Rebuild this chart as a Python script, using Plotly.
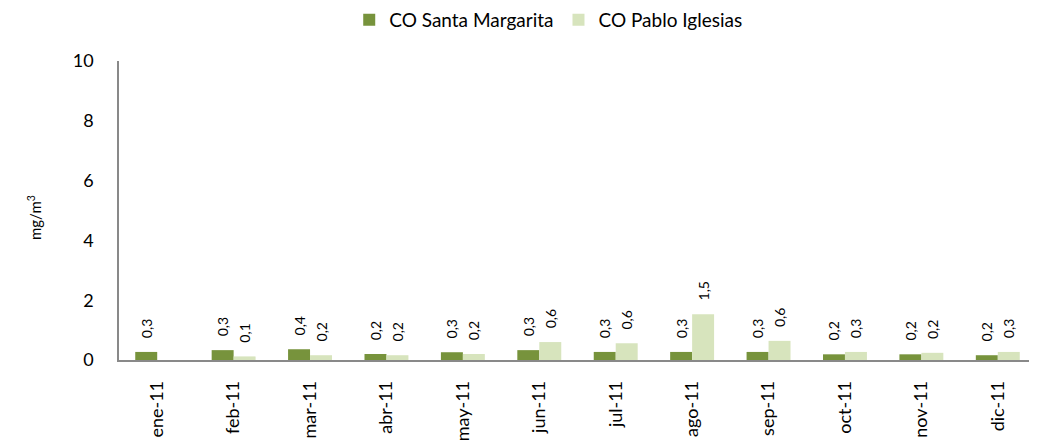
import plotly.graph_objects as go

months = ["ene-11", "feb-11", "mar-11", "abr-11", "may-11", "jun-11",
          "jul-11", "ago-11", "sep-11", "oct-11", "nov-11", "dic-11"]
santa_margarita = [0.27, 0.33, 0.36, 0.20, 0.26, 0.33, 0.27, 0.27, 0.27, 0.19, 0.19, 0.16]
pablo_iglesias = [None, 0.12, 0.16, 0.16, 0.20, 0.60, 0.56, 1.53, 0.64, 0.27, 0.24, 0.27]
y_ticks = [0, 2, 4, 6, 8, 10]

FONT = "Lato"
GREEN = "#77933C"
LIGHT = "#D7E4BD"
LABEL = "\u00a0\u00a0\u00a0%{y:.1f}"

# The page body has an 8px margin, so the figure is sized to fit inside the window.
fig = go.Figure()
for name, vals, col in [("CO Santa Margarita", santa_margarita, GREEN),
                        ("CO Pablo Iglesias", pablo_iglesias, LIGHT)]:
    fig.add_trace(go.Bar(
        x=months, y=vals, name=name,
        marker=dict(color=col, line=dict(width=0)),
        texttemplate=LABEL, textposition="outside", textangle=-90,
        constraintext="none",
        textfont=dict(family=FONT, size=14, color="#000000"), cliponaxis=False,
    ))

fig.update_layout(
    width=1029, height=440,
    margin=dict(l=111, r=1, t=53, b=88, autoexpand=False),
    paper_bgcolor="white", plot_bgcolor="white",
    separators=",.",
    barmode="group", bargap=0.425, bargroupgap=0,
    font=dict(family=FONT, size=16, color="#000000"),
    showlegend=True,
    legend=dict(orientation="h", xref="container", yref="container",
                x=0.525, xanchor="center", y=0.973, yanchor="middle",
                font=dict(family=FONT, size=19), itemwidth=30,
                traceorder="normal"),
    xaxis=dict(type="category", tickangle=-90, showline=True, linecolor="#898989",
               linewidth=1.5, showgrid=False, ticks="", ticklabelstandoff=12,
               automargin=False, tickfont=dict(family=FONT, size=18)),
    yaxis=dict(range=[0, 10], tickvals=y_ticks, showline=True, linecolor="#898989",
               linewidth=1.5, showgrid=False, zeroline=False, ticks="",
               automargin=False, ticklabelstandoff=20, tickfont=dict(family=FONT, size=18)),
    annotations=[dict(text="mg/m<sup>3</sup>", xref="paper", yref="paper",
                      x=-0.104, y=0.475, textangle=-90, showarrow=False,
                      font=dict(family=FONT, size=15))],
)

fig.write_html("out.html")
